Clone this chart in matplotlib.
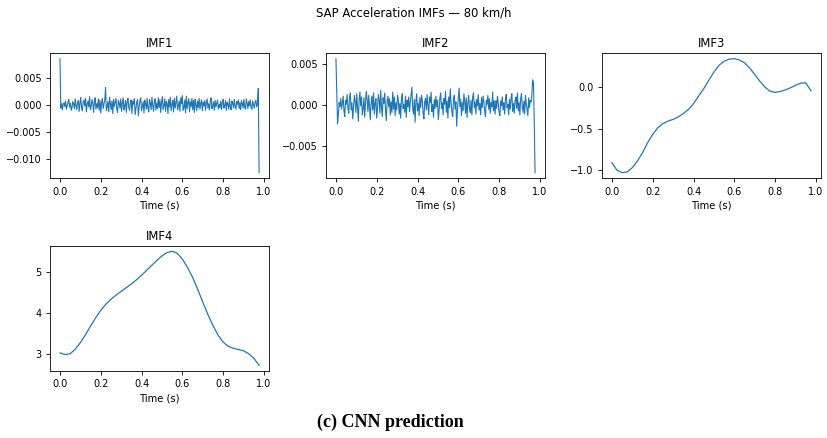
import matplotlib
matplotlib.use("Agg")
from matplotlib import pyplot as plt
import numpy as np

# IMF1 and IMF2 samples, units of 1e-4
imf1 = [85, -6, 2, -9, 1, 4, -3, 7, -8, -2, 5, 10, -4, 3, -10, -5, 6, 2, -7, 11, -1, -9, 4, 8, -12,
        3, 14, -6, -11, 5, 9, -2, 12, -13, 1, 7, -4, 15, -9, -3, 10, 4, -14, 6, 13, -8, 2, -5, 11, -10,
        8, -15, 4, 12, -7, 1, 9, 32, -11, -4, 6, -13, 14, 2, -9, 7, -16, 10, -3, 5, 12, -8, -14, 9, 3,
        -6, 11, -12, 4, 13, -9, -2, 8, -14, 6, 12, -5, -10, 3, 9, -16, 7, 1, 11, -18, -7, 5, 10, -20, -4,
        8, 13, -11, -3, 6, -15, 9, 2, -8, 12, -6, -13, 10, 4, -9, 14, -2, -12, 7, 11, -10, 3, -7, 13, -5,
        9, -14, 5, 15, -8, -2, 11, -12, 6, 3, -16, 10, -4, 14, -11, 1, 8, -13, 12, -6, 4, 16, -9, -3, 7,
        -12, 13, 2, 17, -10, -5, 9, -15, 16, -7, 4, 11, -13, 6, -3, 12, -9, 8, -14, 10, 1, -11, 7, -5, 12,
        -8, 3, 9, -11, 5, -2, 8, -10, 4, 11, -6, 2, -9, 7, 13, -7, -1, 6, -10, 8, -4, 3, 9, -8, 1,
        -5, 7, -9, 4, 10, -6, -1, 8, -10, 5, 2, -8, 11, -4, -9, 7, 3, -6, 10, -2, -8, 6, 1, 9, -7,
        4, -9, 8, 2, -6, 10, -4, -8, 11, 3, -7, 6, -2, 9, -5, -8, 7, 1, -6, 5, 8, -4, 2, 30, -125]

imf2 = [57, 18, -23, -12, 3, -2, 8, -5, 2, 11, -7, -14, 6, 1, 13, -4, -10, 9, 15, -6, 3, -17, -2, 12, 5,
        -9, 14, -3, -20, 7, 16, -1, 10, -12, -5, 9, -15, 4, 17, 6, -8, 12, -2, -18, 3, 11, -6, 15, -11, 2,
        8, -16, -4, 13, 6, -10, 18, -3, -14, 9, 2, 15, -7, -19, 5, 11, -2, 8, -12, 4, -9, 16, -5, 10, -13,
        3, -6, 12, 7, -11, 2, -16, 9, 14, -4, 1, -9, 11, -15, 6, -2, 10, -8, 4, 13, 22, -5, -11, 7, -21,
        5, 14, -7, 2, -13, 9, -3, 12, 6, -10, -17, 4, 8, -6, 13, -1, -12, 10, 3, 16, -8, 1, -15, 7, -4,
        11, -2, 6, -18, -7, 9, 15, -4, 3, -12, 8, 1, 17, -9, 5, -16, 10, -3, 20, 2, -8, -14, 7, 12, -5,
        4, -26, -6, 9, 21, -2, 7, -13, 3, -7, 14, 5, -10, 9, -15, 2, 12, -4, -9, 6, -12, 10, 15, -3, 4,
        -11, 7, -1, 13, -6, 2, -12, 9, -3, 11, 4, -8, -14, 6, 1, 12, -5, 8, -10, 3, -2, 16, -7, 5, -11,
        6, -4, 11, 2, -9, -13, 5, -1, 10, -6, 3, -11, 8, 13, -3, 1, -12, 7, -5, 9, 14, -8, 2, -10, 6,
        10, -4, 15, -7, 3, -12, 8, 14, -2, -9, 5, -11, 12, 2, -6, -13, 9, -3, 6, 4, 12, 31, 27, -20, -83]

# smooth IMFs, read every 0.025 s
t_smooth = [0.0, 0.025, 0.05, 0.075, 0.1, 0.125, 0.15, 0.175, 0.2, 0.225, 0.25, 0.275, 0.3, 0.325,
            0.35, 0.375, 0.4, 0.425, 0.45, 0.475, 0.5, 0.525, 0.55, 0.575, 0.6, 0.625, 0.65, 0.675,
            0.7, 0.725, 0.75, 0.775, 0.8, 0.825, 0.85, 0.875, 0.9, 0.925, 0.95, 0.976]
imf3 = [-0.91, -1.00, -1.03, -1.02, -0.97, -0.89, -0.79, -0.67, -0.57, -0.49, -0.44, -0.41, -0.39, -0.36,
        -0.32, -0.27, -0.20, -0.11, -0.02, 0.08, 0.18, 0.26, 0.31, 0.335, 0.34, 0.325, 0.29, 0.23,
        0.15, 0.07, 0.00, -0.05, -0.065, -0.055, -0.035, -0.01, 0.02, 0.045, 0.05, -0.045]
imf4 = [3.03, 2.99, 3.01, 3.12, 3.28, 3.47, 3.68, 3.88, 4.06, 4.21, 4.33, 4.43, 4.52, 4.61,
        4.70, 4.80, 4.91, 5.03, 5.15, 5.27, 5.38, 5.46, 5.49, 5.44, 5.30, 5.10, 4.86, 4.57,
        4.26, 3.96, 3.69, 3.46, 3.29, 3.19, 3.14, 3.11, 3.08, 3.01, 2.90, 2.73]

titles = ["IMF1", "IMF2", "IMF3", "IMF4"]

plt.rcParams["font.size"] = 7.0
plt.rcParams["axes.titlesize"] = 8.4
plt.rcParams["axes.labelsize"] = 7.2
plt.rcParams["axes.linewidth"] = 0.6
plt.rcParams["xtick.major.size"] = 3
plt.rcParams["ytick.major.size"] = 3
plt.rcParams["xtick.major.width"] = 0.6
plt.rcParams["ytick.major.width"] = 0.6
plt.rcParams["xtick.major.pad"] = 3
plt.rcParams["ytick.major.pad"] = 3

fig, axes = plt.subplots(2, 3, figsize=(8.27, 4.38), dpi=100)
fig.subplots_adjust(left=0.0605, right=0.9927, top=0.879, bottom=0.153, wspace=0.26, hspace=0.536)

series = [
    (np.linspace(0, 0.976, len(imf1)), np.array(imf1) * 1e-4, 0.8),
    (np.linspace(0, 0.976, len(imf2)), np.array(imf2) * 1e-4, 0.8),
    (np.array(t_smooth), np.array(imf3), 0.9),
    (np.array(t_smooth), np.array(imf4), 0.9),
]
flat = axes.flatten()
for ax, (t, y, lw), title in zip(flat, series, titles):
    ax.plot(t, y, color="#1f77b4", linewidth=lw)
    ax.set_title(title, pad=4)
    ax.set_xlabel("Time (s)", labelpad=3)
    ax.set_xticks([0.0, 0.2, 0.4, 0.6, 0.8, 1.0])
flat[2].set_yticks([-1.0, -0.5, 0.0])
flat[3].set_yticks([3, 4, 5])
flat[4].axis("off")
flat[5].axis("off")

fig.suptitle("SAP Acceleration IMFs \u2014 80 km/h", fontsize=8.4, y=0.970, va="center")
fig.text(0.472, 0.0365, "(c) CNN prediction", ha="center", va="center",
         family="Liberation Serif", fontweight="bold", fontsize=13)

fig.savefig("out.png", dpi=100)
